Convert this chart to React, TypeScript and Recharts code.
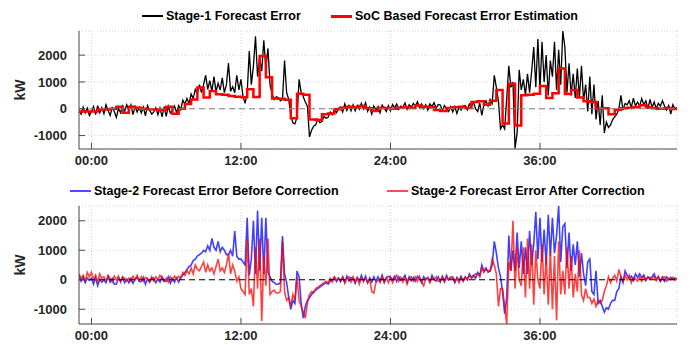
import React from 'react';
import { LineChart, Line, XAxis, YAxis, CartesianGrid, ReferenceLine } from 'recharts';

// 10-minute samples from t = -1 h to 47 h (one row per hour)
const stage1Error: number[] = [
  -80, -200, 60, -150, 20, -250,
  -100, 80, -220, 120, -150, 40,
  -180, 150, -60, -250, 40, -100,
  -320, 20, -150, 100, -80, 150,
  -60, 150, -220, 80, -120, 50,
  -150, 60, -260, 120, -50, -200,
  -120, 40, -220, 30, -300, 80,
  -280, 90, -160, -60, 100, -150,
  120, -40, 320, 180, 380, 200,
  550, 380, 720, 560, 900, 600,
  900, 1250, 720, 1050, 650, 1200,
  650, 950, 700, 1150, 600, 900,
  1700, 650, 820, 600, 1250, 700,
  1100, 450, 200, 600, 2150, 900,
  1600, 2700, 1200, 1900, 1400, 2550,
  1500, 2250, 900, 550, 350, 450,
  420, 300, 350, 1800, 600, 350,
  -250, -520, -560, -300, 1100, 600,
  450, 250, 100, -1050, -800, -650,
  -600, -380, -520, -480, -280, -350,
  -320, -120, -220, -40, -150, 20,
  60, -120, 180, -60, 120, -80,
  150, -80, 120, -20, 200, 0,
  220, -100, 60, -200, 100, -50,
  80, -150, 140, 20, -100, 120,
  -80, 160, 40, 180, -20, 100,
  60, 220, -20, 150, 50, 200,
  100, 260, 40, 180, 0, 150,
  -50, 180, 80, 230, 20, 160,
  140, -60, 120, 10, -100, 80,
  -120, 80, -180, 60, -50, 100,
  120, -40, 180, 60, 250, 0,
  -100, 220, -250, 150, 300, 100,
  350, 200, 1250, 800, 300, -750,
  -600, -750, 400, 1600, 800, 1000,
  -1480, -900, 1450, 700, 1100, 500,
  1300, 600, 1400, 2300, 800, 2600,
  700, 2500, 1000, 2000, 500, 1800,
  1200, 2500, 700, 2200, 900, 2900,
  2300, 600, 1700, 500, 1300, 400,
  1500, 400, 1600, 300, 900, -100,
  1200, -200, 900, -400, 300, -600,
  500, -900, -500, -700, -600, -400,
  -300, -200, 0, 500, -50, 200,
  150, 300, 50, 400, 100, 250,
  100, 380, 150, 300, 0, 350,
  50, 250, 0, 200, 100, 300,
  100, -50, 120, -200, 150, 0,
  50,
];

// 30-minute steps from t = -1 h to 47 h
const socEstimate: number[] = [
  -100, -100,
  -100, -30,
  -30, 0,
  80, -150,
  80, 40,
  0, -20,
  -30, -40,
  80, -190,
  0, 180,
  350, 790,
  420, 660,
  540, 520,
  480, 450,
  430, 730,
  440, 1970,
  1180, 380,
  370, 340,
  -350, 560,
  520, -400,
  -420, -200,
  -180, -20,
  40, 80,
  60, 100,
  20, -80,
  40, 30,
  0, 40,
  60, 30,
  120, 80,
  60, -50,
  -80, 30,
  60, 80,
  30, 250,
  280, 150,
  300, 700,
  -550, 930,
  -620, 500,
  520, 560,
  850, 400,
  580, 1500,
  550, 700,
  420, 280,
  250, 0,
  20, -200,
  -40, 20,
  40, 60,
  130, 60,
  20, 0,
  30, -10,
  -10,
];

// 10-minute samples from t = -1 h to 47 h
const stage2Before: number[] = [
  150, -50, 100, -100, 60, -20,
  50, -150, 80, -200, 20, -80,
  0, -100, 100, -80, 40, -150,
  -150, 60, -50, 80, -100, 20,
  -100, 50, -120, 20, 80, -60,
  -60, 80, -150, 40, -80, 60,
  60, -100, 20, -80, 100, -40,
  -50, 100, -120, 30, -80, 60,
  -80, 80, 150, 250, 350, 450,
  500, 650, 700, 800, 850, 900,
  1000, 950, 1150, 1000, 1400, 1100,
  1000, 1300, 950, 1100, 1000, 850,
  850, 1000, 800, 1650, 800, 700,
  700, 600, 500, 2100, 150, 700,
  2000, 200, 2350, 300, 2100, 200,
  2100, 250, 100, -50, -100, -150,
  -150, -100, 1480, 200, -100, -600,
  -1000, -700, -800, 300, 100, -800,
  -1300, -900, -700, -600, -500, -400,
  -350, -300, -250, -200, -150, -100,
  -150, -50, 0, 80, -60, 50,
  -60, 100, -80, 120, -40, 80,
  50, -120, 80, -40, 150, -60,
  120, -100, 60, -80, 100, -50,
  100, -60, 150, -100, 50, 120,
  80, 0, 120, -60, 100, -20,
  50, 150, -80, 100, -30, 80,
  -50, 120, 30, -100, 100, 0,
  80, -60, 150, 20, -50, 100,
  -80, 100, -40, 150, 0, 60,
  60, -100, 80, -20, 120, -50,
  100, 0, 200, 80, 150, 50,
  250, 150, 500, 300, 400, 250,
  300, 500, 1300, 900, 400, 100,
  -400, -1150, -600, 1500, 300, 1000,
  300, 1600, 400, 1300, 200, 1100,
  200, 1650, 500, 1200, 2300, 700,
  2100, 600, 1700, 500, 2200, 800,
  2100, 900, 1500, 2500, 600, 1800,
  1900, 400, 1600, 300, 1200, 500,
  1300, 100, 900, 200, -200, 600,
  700, -400, -500, 300, -800, -700,
  -900, -1100, -950, -1000, -800, -700,
  -700, -400, -300, 100, -100, 300,
  150, 50, 120, -20, 200, 80,
  200, 80, 150, -30, 100, 50,
  100, 200, 0, 120, -50, 80,
  -50, 100, 0, 80, 20, 60,
  20,
];

const stage2After: number[] = [
  200, 50, 150, -50, 250, 100,
  250, 0, 150, -100, 200, 50,
  100, -50, 150, 50, -80, 120,
  0, 120, -80, 100, 50, -50,
  50, -60, 120, 0, 150, -30,
  100, -50, 80, 20, -80, 100,
  -40, 100, 0, 150, 50, -60,
  50, -80, 100, 0, 120, 30,
  120, 50, 250, 150, 300, 200,
  400, 200, 500, 350, 300, 450,
  600, 250, 500, 300, 400, 200,
  450, 700, 300, 400, 250, 500,
  900, 200, 500, 300, -50, 100,
  -300, -400, -500, 1400, -500, -300,
  -900, 1100, -300, 1400, -1400, 800,
  -200, 1400, -500, -400, -350, -450,
  -450, -400, 1300, -400, -700, -600,
  -900, -500, -700, 100, -700, -900,
  -1100, -1300, -800, -500, -400, -450,
  -300, -250, -200, -150, -100, -50,
  -100, 50, -80, 100, 0, 60,
  -50, 80, -120, 50, 100, -80,
  100, -80, 60, -150, 50, 0,
  50, -100, 20, -400, -450, -100,
  0, -80, 120, -50, 80, -100,
  100, -100, 50, 150, -50, 80,
  -80, 80, -150, 50, 100, -50,
  100, -50, 120, -80, -200, 50,
  50, -100, 80, 0, 100, -50,
  -50, 120, -80, 60, 0, 100,
  100, -60, 50, -100, 80, 0,
  80, 0, 150, 50, 100, 200,
  200, 100, 400, 250, 350, 300,
  300, 700, 500, 200, -900, -300,
  -300, -900, -1500, 600, 300, 2000,
  -300, 1100, 0, -200, 1100, -600,
  1400, -300, 1200, -850, 1000, 0,
  -300, 1200, -500, 800, -850, 1000,
  -1000, 800, -1370, 1300, -500, 300,
  -500, 1100, -300, 800, -600, 200,
  -400, 1000, -500, -700, -300, -600,
  -600, -800, -650, -900, -700, -800,
  -700, -400, -200, 100, -100, 50,
  150, -50, 350, 100, -50, 150,
  0, 150, -100, 80, 50, -50,
  100, -50, 150, 0, 80, 20,
  50, 120, -30, 80, -50, 100,
  100, -50, 50, 0, 80, -20,
  50,
];

const xTicks = [0, 12, 24, 36];
const yTicks = [-1000, 0, 1000, 2000];
const topLegend = ['Stage-1 Forecast Error', 'SoC Based Forecast Error Estimation'];
const bottomLegend = ['Stage-2 Forecast Error Before Correction', 'Stage-2 Forecast Error After Correction'];

const tenMin = (arr: number[]) => arr.map((v, i) => ({ t: -1 + i / 6, v }));
const half = (arr: number[]) => arr.map((v, i) => ({ t: -1 + i * 0.5, v }));

const s1Data = tenMin(stage1Error);
const socData = half(socEstimate);
const beforeData = tenMin(stage2Before);
const afterData = tenMin(stage2After);

const FONT = '"Liberation Sans", Arial, Helvetica, sans-serif';
const AXIS = '#4d4d4d';
const tickStyle = { fill: '#262626', fontSize: 13, fontWeight: 700, fontFamily: FONT };
const fmt = (t: number) => `${String(t).padStart(2, '0')}:00`;

function panelAxes(domain: [number, number]) {
  return [
    <XAxis key="xb" xAxisId={0} type="number" dataKey="t" domain={[-1, 47]} allowDataOverflow ticks={xTicks}
      tickFormatter={fmt} interval={0} height={20} tickSize={-6} tickMargin={13}
      axisLine={{ stroke: AXIS }} tickLine={{ stroke: AXIS }} tick={tickStyle} />,
    <XAxis key="xt" xAxisId="top" orientation="top" type="number" dataKey="t" domain={[-1, 47]} allowDataOverflow
      ticks={xTicks} interval={0} height={0} tickSize={-6} tick={false}
      axisLine={{ stroke: AXIS }} tickLine={{ stroke: AXIS }} />,
    <YAxis key="yl" yAxisId={0} type="number" domain={domain} allowDataOverflow ticks={yTicks} interval={0}
      width={60} tickSize={-6} tickMargin={18}
      axisLine={{ stroke: AXIS }} tickLine={{ stroke: AXIS }} tick={tickStyle} />,
    <YAxis key="yr" yAxisId="r" orientation="right" type="number" domain={domain} allowDataOverflow ticks={yTicks}
      interval={0} width={0} tickSize={-6} tick={false}
      axisLine={{ stroke: AXIS }} tickLine={{ stroke: AXIS }} />,
  ];
}

function LegendItem({ top, left, label, color, w, op }: { top: number; left: number; label: string; color: string; w: number; op?: number }) {
  return (
    <div style={{ position: 'absolute', top, left, height: 20, display: 'flex', alignItems: 'center', fontFamily: FONT, fontWeight: 700, fontSize: 12.5, color: '#000', whiteSpace: 'nowrap' }}>
      <div style={{ width: 21, height: w, background: color, opacity: op ?? 1, marginRight: 3 }} />
      <span>{label}</span>
    </div>
  );
}

function KW({ top }: { top: number }) {
  return (
    <div style={{ position: 'absolute', left: 20, top, width: 0, height: 0 }}>
      <div style={{ position: 'absolute', transform: 'translate(-50%, -50%) rotate(-90deg)', fontFamily: FONT, fontWeight: 700, fontSize: 14, color: '#262626', whiteSpace: 'nowrap' }}>kW</div>
    </div>
  );
}

export default function App() {
  return (
    <div style={{ position: 'absolute', left: 0, top: 0, width: 691, height: 345, background: '#fff', overflow: 'hidden' }}>
      <div style={{ position: 'absolute', left: 0, top: 0 }}>
        <LineChart width={691} height={172} margin={{ top: 31, right: 14, bottom: 3, left: 19 }}>
          <CartesianGrid stroke="#d4d4d4" strokeDasharray="1 2" />
          {panelAxes([-1500, 2900])}
          <Line data={s1Data} dataKey="v" type="linear" stroke="#000" strokeWidth={1.3} dot={false} isAnimationActive={false} />
          <Line data={socData} dataKey="v" type="stepAfter" stroke="#ff0000" strokeWidth={2.5} dot={false} isAnimationActive={false} />
          <ReferenceLine y={0} stroke="#7f7f7f" strokeDasharray="6 4" strokeWidth={1.2} />
        </LineChart>
      </div>
      <div style={{ position: 'absolute', left: 0, top: 172 }}>
        <LineChart width={691} height={173} margin={{ top: 34, right: 14, bottom: 1, left: 19 }}>
          <CartesianGrid stroke="#d4d4d4" strokeDasharray="1 2" />
          {panelAxes([-1500, 2500])}
          <Line data={beforeData} dataKey="v" type="linear" stroke="#0000ff" strokeOpacity={0.75} strokeWidth={1.6} dot={false} isAnimationActive={false} />
          <Line data={afterData} dataKey="v" type="linear" stroke="#ff0000" strokeOpacity={0.75} strokeWidth={1.6} dot={false} isAnimationActive={false} />
          <ReferenceLine y={0} stroke="#000" strokeDasharray="6 4" strokeWidth={1} />
        </LineChart>
      </div>
      <LegendItem top={6} left={142} label={topLegend[0]} color="#000" w={1.5} />
      <LegendItem top={6} left={331} label={topLegend[1]} color="#ff0000" w={3} />
      <LegendItem top={181} left={70} label={bottomLegend[0]} color="#0000ff" w={2} op={0.7} />
      <LegendItem top={181} left={387} label={bottomLegend[1]} color="#ff0000" w={2} op={0.7} />
      <KW top={90} />
      <KW top={265} />
    </div>
  );
}
